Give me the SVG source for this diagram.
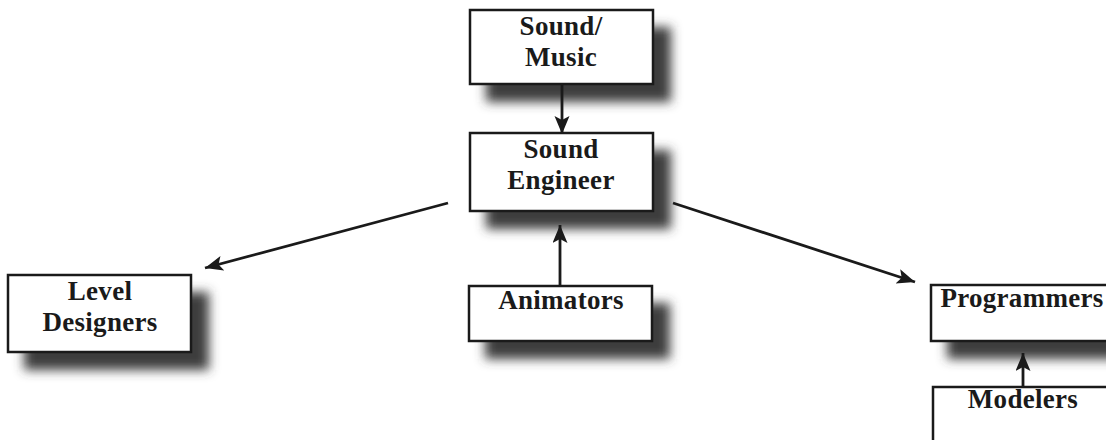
<svg xmlns="http://www.w3.org/2000/svg" width="1106" height="440" viewBox="0 0 1106 440">
  <style>
    .box { fill: #ffffff; stroke: #1a1a1a; stroke-width: 2.5; }
    .shadow { fill: #3c3c3c; filter: url(#blur); }
    .label { font-family: "Liberation Serif", "Times New Roman", serif; font-weight: bold; font-size: 27px; fill: #1a1a1a; text-anchor: middle; letter-spacing: 0.3px; }
    .conn { stroke: #1a1a1a; stroke-width: 2.8; fill: none; marker-end: url(#arrow); }
  </style>
  <defs>
    <filter id="blur" x="-25%" y="-50%" width="150%" height="200%">
      <feGaussianBlur stdDeviation="5.5"/>
    </filter>
    <marker id="arrow" markerUnits="userSpaceOnUse" markerWidth="20" markerHeight="16" refX="18" refY="7.5" orient="auto">
      <path d="M0,0 L18,7.5 L0,15 L4,7.5 Z" fill="#1a1a1a"/>
    </marker>
  </defs>
  <rect width="1106" height="440" fill="#ffffff"/>

  <g id="node-sound-music">
    <rect class="shadow" x="486" y="27" width="185" height="75"/>
    <rect class="box" x="470" y="10" width="183" height="74"/>
    <text class="label" x="561" y="35">Sound/</text>
    <text class="label" x="561" y="66">Music</text>
  </g>

  <g id="node-sound-engineer">
    <rect class="shadow" x="486" y="150" width="185" height="79"/>
    <rect class="box" x="470" y="133" width="183" height="78"/>
    <text class="label" x="561" y="158">Sound</text>
    <text class="label" x="561" y="189">Engineer</text>
  </g>

  <g id="node-level-designers">
    <rect class="shadow" x="24" y="292" width="185" height="78"/>
    <rect class="box" x="8" y="275" width="183" height="77"/>
    <text class="label" x="100" y="300">Level</text>
    <text class="label" x="100" y="331">Designers</text>
  </g>

  <g id="node-animators">
    <rect class="shadow" x="485" y="303" width="185" height="56"/>
    <rect class="box" x="469" y="286" width="183" height="55"/>
    <text class="label" x="561" y="309">Animators</text>
  </g>

  <g id="node-programmers">
    <rect class="shadow" x="947" y="302" width="185" height="57"/>
    <rect class="box" x="931" y="285" width="183" height="56"/>
    <text class="label" x="1022" y="307">Programmers</text>
  </g>

  <g id="node-modelers">
    <rect class="shadow" x="949" y="404" width="185" height="70"/>
    <rect class="box" x="933" y="387" width="183" height="70"/>
    <text class="label" x="1023" y="408">Modelers</text>
  </g>

  <g id="connectors">
    <line class="conn" x1="562" y1="84" x2="562" y2="134"/>
    <line class="conn" x1="560" y1="286" x2="560" y2="225"/>
    <line class="conn" x1="448" y1="203" x2="205" y2="268"/>
    <line class="conn" x1="673" y1="203" x2="915" y2="282"/>
    <line class="conn" x1="1023" y1="387" x2="1023" y2="353"/>
  </g>
</svg>
